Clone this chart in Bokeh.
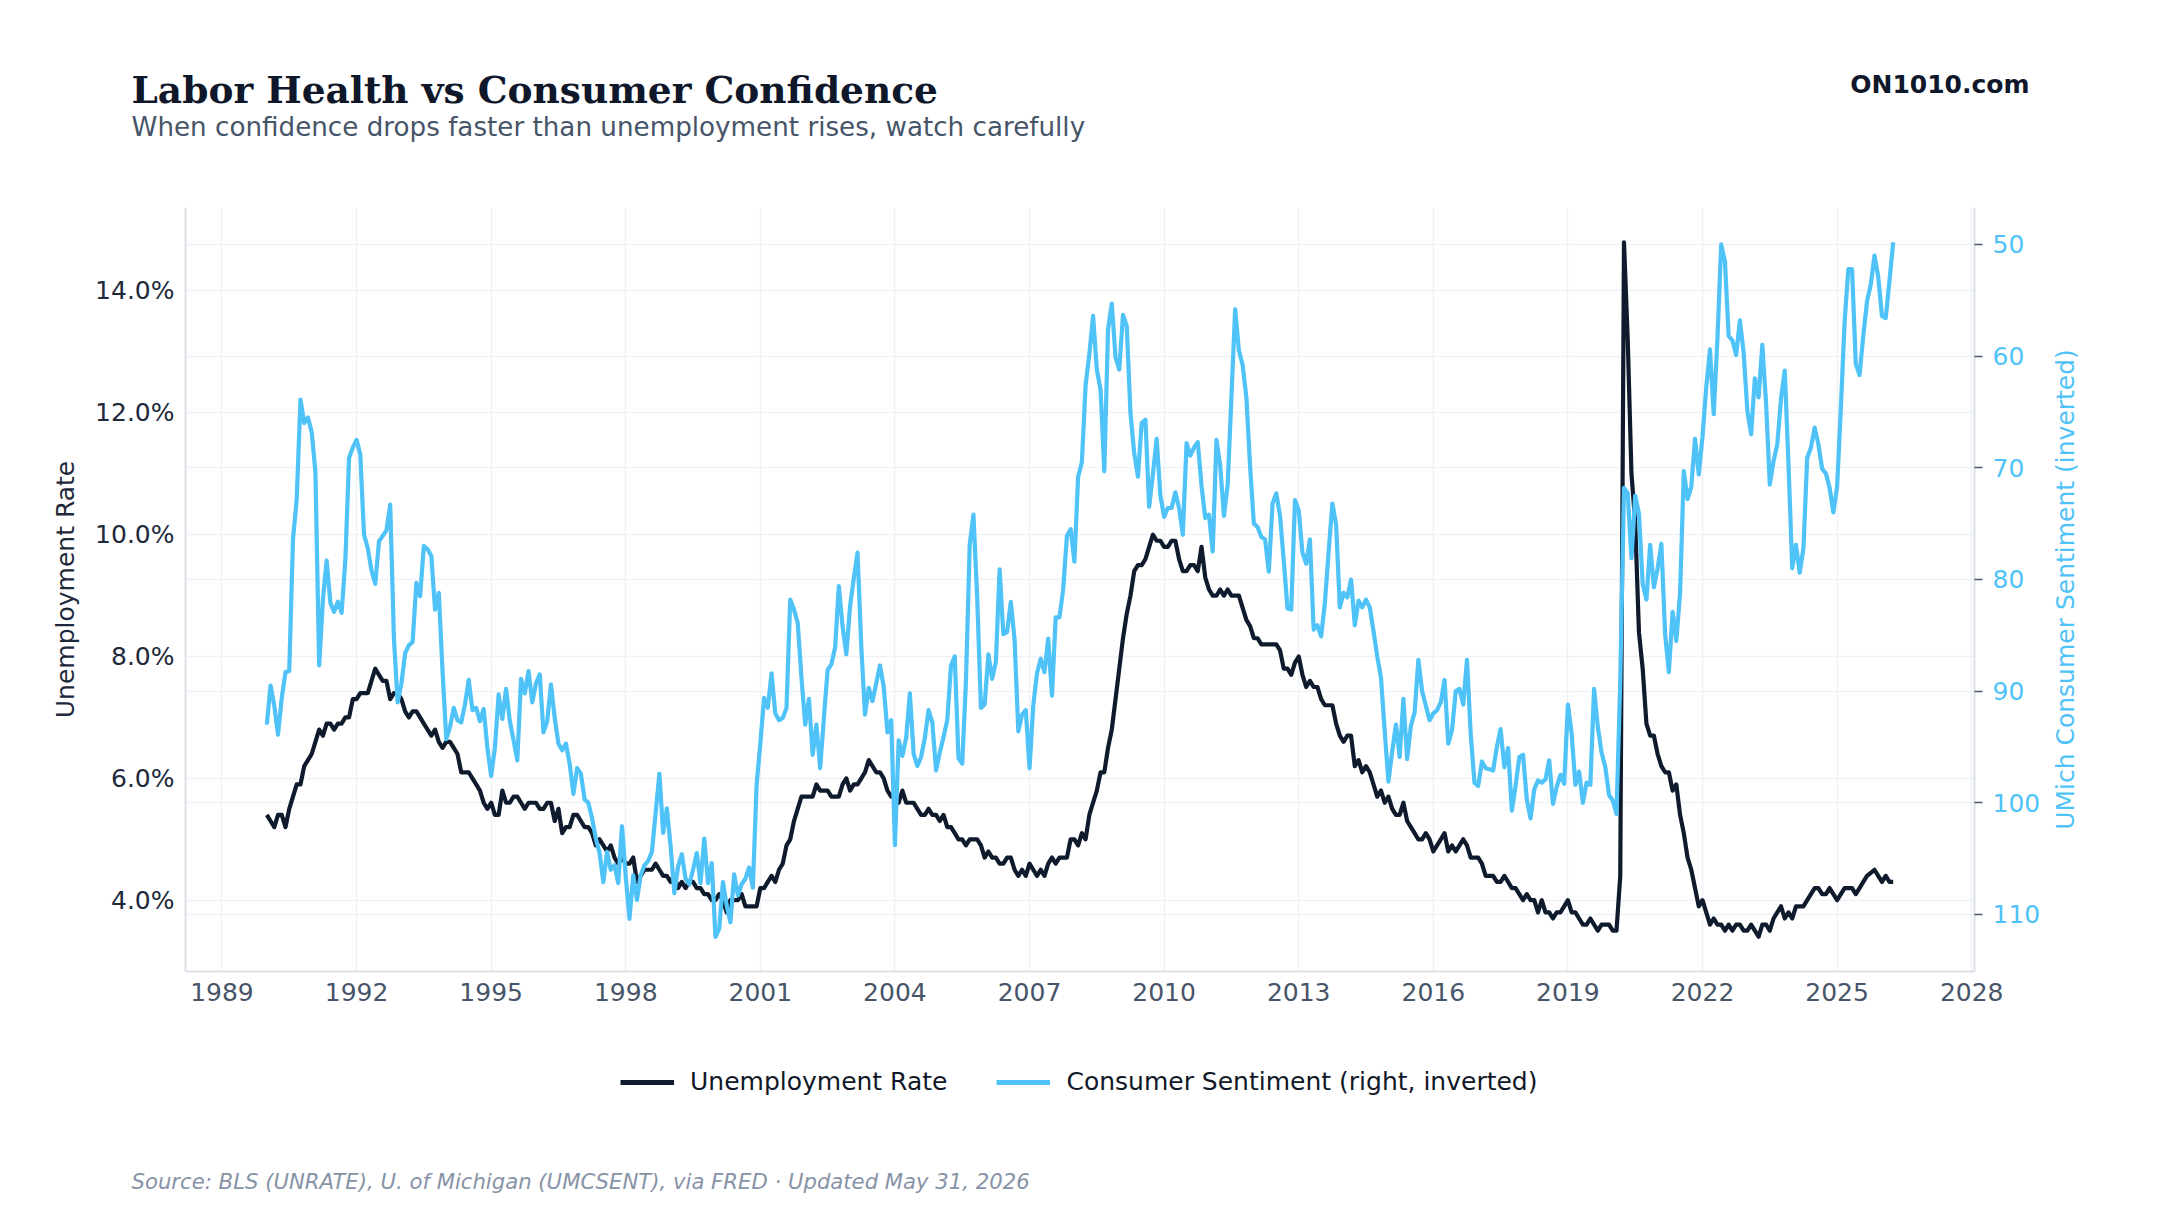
import math
import pandas as pd
from bokeh.plotting import figure
from bokeh.layouts import column, row
from bokeh.models import (Range1d, LinearAxis, FixedTicker, PrintfTickFormatter, Grid,
                          Label, Legend, LegendItem, ColumnDataSource)
from bokeh.embed import file_html
from bokeh.resources import INLINE

# ---------------- data (monthly, Jan 1990 .. Apr 2026) ----------------
start_month = "1990-01-01"

unemployment_rate = [
    5.4, 5.3, 5.2, 5.4, 5.4, 5.2, 5.5, 5.7, 5.9, 5.9, 6.2, 6.3,
    6.4, 6.6, 6.8, 6.7, 6.9, 6.9, 6.8, 6.9, 6.9, 7.0, 7.0, 7.3,
    7.3, 7.4, 7.4, 7.4, 7.6, 7.8, 7.7, 7.6, 7.6, 7.3, 7.4, 7.4,
    7.3, 7.1, 7.0, 7.1, 7.1, 7.0, 6.9, 6.8, 6.7, 6.8, 6.6, 6.5,
    6.6, 6.6, 6.5, 6.4, 6.1, 6.1, 6.1, 6.0, 5.9, 5.8, 5.6, 5.5,
    5.6, 5.4, 5.4, 5.8, 5.6, 5.6, 5.7, 5.7, 5.6, 5.5, 5.6, 5.6,
    5.6, 5.5, 5.5, 5.6, 5.6, 5.3, 5.5, 5.1, 5.2, 5.2, 5.4, 5.4,
    5.3, 5.2, 5.2, 5.1, 4.9, 5.0, 4.9, 4.8, 4.9, 4.7, 4.6, 4.7,
    4.6, 4.6, 4.7, 4.3, 4.4, 4.5, 4.5, 4.5, 4.6, 4.5, 4.4, 4.4,
    4.3, 4.4, 4.2, 4.3, 4.2, 4.3, 4.3, 4.2, 4.2, 4.1, 4.1, 4.0,
    4.0, 4.1, 4.0, 3.8, 4.0, 4.0, 4.0, 4.1, 3.9, 3.9, 3.9, 3.9,
    4.2, 4.2, 4.3, 4.4, 4.3, 4.5, 4.6, 4.9, 5.0, 5.3, 5.5, 5.7,
    5.7, 5.7, 5.7, 5.9, 5.8, 5.8, 5.8, 5.7, 5.7, 5.7, 5.9, 6.0,
    5.8, 5.9, 5.9, 6.0, 6.1, 6.3, 6.2, 6.1, 6.1, 6.0, 5.8, 5.7,
    5.7, 5.6, 5.8, 5.6, 5.6, 5.6, 5.5, 5.4, 5.4, 5.5, 5.4, 5.4,
    5.3, 5.4, 5.2, 5.2, 5.1, 5.0, 5.0, 4.9, 5.0, 5.0, 5.0, 4.9,
    4.7, 4.8, 4.7, 4.7, 4.6, 4.6, 4.7, 4.7, 4.5, 4.4, 4.5, 4.4,
    4.6, 4.5, 4.4, 4.5, 4.4, 4.6, 4.7, 4.6, 4.7, 4.7, 4.7, 5.0,
    5.0, 4.9, 5.1, 5.0, 5.4, 5.6, 5.8, 6.1, 6.1, 6.5, 6.8, 7.3,
    7.8, 8.3, 8.7, 9.0, 9.4, 9.5, 9.5, 9.6, 9.8, 10.0, 9.9, 9.9,
    9.8, 9.8, 9.9, 9.9, 9.6, 9.4, 9.4, 9.5, 9.5, 9.4, 9.8, 9.3,
    9.1, 9.0, 9.0, 9.1, 9.0, 9.1, 9.0, 9.0, 9.0, 8.8, 8.6, 8.5,
    8.3, 8.3, 8.2, 8.2, 8.2, 8.2, 8.2, 8.1, 7.8, 7.8, 7.7, 7.9,
    8.0, 7.7, 7.5, 7.6, 7.5, 7.5, 7.3, 7.2, 7.2, 7.2, 6.9, 6.7,
    6.6, 6.7, 6.7, 6.2, 6.3, 6.1, 6.2, 6.1, 5.9, 5.7, 5.8, 5.6,
    5.7, 5.5, 5.4, 5.4, 5.6, 5.3, 5.2, 5.1, 5.0, 5.0, 5.1, 5.0,
    4.8, 4.9, 5.0, 5.1, 4.8, 4.9, 4.8, 4.9, 5.0, 4.9, 4.7, 4.7,
    4.7, 4.6, 4.4, 4.4, 4.4, 4.3, 4.3, 4.4, 4.3, 4.2, 4.2, 4.1,
    4.0, 4.1, 4.0, 4.0, 3.8, 4.0, 3.8, 3.8, 3.7, 3.8, 3.8, 3.9,
    4.0, 3.8, 3.8, 3.7, 3.6, 3.6, 3.7, 3.6, 3.5, 3.6, 3.6, 3.6,
    3.5, 3.5, 4.4, 14.8, 13.2, 11.0, 10.2, 8.4, 7.8, 6.9, 6.7, 6.7,
    6.4, 6.2, 6.1, 6.1, 5.8, 5.9, 5.4, 5.1, 4.7, 4.5, 4.2, 3.9,
    4.0, 3.8, 3.6, 3.7, 3.6, 3.6, 3.5, 3.6, 3.5, 3.6, 3.6, 3.5,
    3.5, 3.6, 3.5, 3.4, 3.6, 3.6, 3.5, 3.7, 3.8, 3.9, 3.7, 3.8,
    3.7, 3.9, 3.9, 3.9, 4.0, 4.1, 4.2, 4.2, 4.1, 4.1, 4.2, 4.1,
    4.0, 4.1, 4.2, 4.2, 4.2, 4.1, 4.2, 4.3, 4.4, None, 4.5, 4.4,
    4.3, 4.4, 4.3, 4.3,
]

consumer_sentiment = [
    93.0, 89.5, 91.3, 93.9, 90.6, 88.3, 88.2, 76.4, 72.8, 63.9, 66.0, 65.5,
    66.8, 70.4, 87.7, 81.8, 78.3, 82.1, 82.9, 82.0, 83.0, 78.3, 69.1, 68.2,
    67.5, 68.8, 76.0, 77.2, 79.2, 80.4, 76.6, 76.1, 75.6, 73.3, 85.3, 91.0,
    89.3, 86.6, 85.9, 85.6, 80.3, 81.5, 77.0, 77.3, 77.9, 82.7, 81.2, 88.2,
    94.3, 93.2, 91.5, 92.6, 92.8, 91.2, 89.0, 91.7, 91.5, 92.7, 91.6, 95.1,
    97.6, 95.1, 90.3, 92.5, 89.8, 92.7, 94.4, 96.2, 88.9, 90.2, 88.2, 91.0,
    89.3, 88.5, 93.7, 92.7, 89.4, 92.4, 94.7, 95.3, 94.7, 96.5, 99.2, 96.9,
    97.4, 99.7, 100.0, 101.4, 103.2, 104.5, 107.1, 104.4, 106.0, 105.6, 107.2, 102.1,
    106.6, 110.4, 106.5, 108.7, 106.5, 105.6, 105.2, 104.4, 100.9, 97.4, 102.7, 100.5,
    103.9, 108.1, 105.7, 104.6, 106.8, 107.3, 106.0, 104.5, 107.2, 103.2, 107.2, 105.4,
    112.0, 111.3, 107.1, 109.2, 110.7, 106.4, 108.3, 107.3, 106.8, 105.8, 107.6, 98.4,
    94.7, 90.6, 91.5, 88.4, 92.0, 92.6, 92.4, 91.5, 81.8, 82.7, 83.9, 88.8,
    93.0, 90.7, 95.7, 93.0, 96.9, 92.4, 88.1, 87.6, 86.1, 80.6, 84.2, 86.7,
    82.4, 79.9, 77.6, 86.0, 92.1, 89.7, 90.9, 89.3, 87.7, 89.6, 93.7, 92.6,
    103.8, 94.4, 95.8, 94.2, 90.2, 95.6, 96.7, 95.9, 94.2, 91.7, 92.8, 97.1,
    95.5, 94.1, 92.6, 87.7, 86.9, 96.0, 96.5, 89.1, 76.9, 74.2, 81.6, 91.5,
    91.2, 86.7, 88.9, 87.4, 79.1, 84.9, 84.7, 82.0, 85.4, 93.6, 92.1, 91.7,
    96.9, 91.3, 88.4, 87.1, 88.3, 85.3, 90.4, 83.4, 83.4, 80.9, 76.1, 75.5,
    78.4, 70.8, 69.5, 62.6, 59.8, 56.4, 61.2, 63.0, 70.3, 57.6, 55.3, 60.1,
    61.2, 56.3, 57.3, 65.1, 68.7, 70.8, 66.0, 65.7, 73.5, 70.6, 67.4, 72.5,
    74.4, 73.6, 73.6, 72.2, 73.6, 76.0, 67.8, 68.9, 68.2, 67.7, 71.6, 74.5,
    74.2, 77.5, 67.5, 69.8, 74.3, 71.5, 63.7, 55.8, 59.5, 60.8, 63.7, 69.9,
    75.0, 75.3, 76.2, 76.4, 79.3, 73.2, 72.3, 74.3, 78.3, 82.6, 82.7, 72.9,
    73.8, 77.6, 78.6, 76.4, 84.5, 84.1, 85.1, 82.1, 77.5, 73.2, 75.1, 82.5,
    81.2, 81.6, 80.0, 84.1, 81.9, 82.5, 81.8, 82.5, 84.6, 86.9, 88.8, 93.6,
    98.1, 95.4, 93.0, 95.9, 90.7, 96.1, 93.1, 91.9, 87.2, 90.0, 91.3, 92.6,
    92.0, 91.7, 91.0, 89.0, 94.7, 93.5, 90.0, 89.8, 91.2, 87.2, 93.8, 98.2,
    98.5, 96.3, 96.9, 97.0, 97.1, 95.0, 93.4, 96.8, 95.1, 100.7, 98.5, 95.9,
    95.7, 99.7, 101.4, 98.8, 98.0, 98.2, 97.9, 96.2, 100.1, 98.6, 97.5, 98.3,
    91.2, 93.8, 98.4, 97.2, 100.0, 98.2, 98.4, 89.8, 93.2, 95.5, 96.8, 99.3,
    99.8, 101.0, 89.1, 71.8, 72.3, 78.1, 72.5, 74.1, 80.4, 81.8, 76.9, 80.7,
    79.0, 76.8, 84.9, 88.3, 82.9, 85.5, 81.2, 70.3, 72.8, 71.7, 67.4, 70.6,
    67.2, 62.8, 59.4, 65.2, 58.4, 50.0, 51.5, 58.2, 58.6, 59.9, 56.8, 59.7,
    64.9, 67.0, 62.0, 63.7, 59.0, 64.2, 71.5, 69.4, 67.9, 63.8, 61.3, 69.7,
    79.0, 76.9, 79.4, 77.2, 69.1, 68.2, 66.4, 67.9, 70.1, 70.5, 71.8, 74.0,
    71.7, 64.7, 57.0, 52.2, 52.2, 60.7, 61.7, 58.2, 55.1, 53.6, 51.0, 52.9,
    56.4, 56.6, 53.3, 49.8,
]

year_ticks = [1989, 1992, 1995, 1998, 2001, 2004, 2007, 2010, 2013, 2016, 2019, 2022, 2025, 2028]
rate_ticks = [4, 6, 8, 10, 12, 14]
sentiment_ticks = [50, 60, 70, 80, 90, 100, 110]

title_text = "Labor Health vs Consumer Confidence"
subtitle_text = "When confidence drops faster than unemployment rises, watch carefully"
brand_text = "ON1010.com"
source_text = "Source: BLS (UNRATE), U. of Michigan (UMCSENT), via FRED \u00b7 Updated May 31, 2026"
legend_labels = ["Unemployment Rate", "Consumer Sentiment (right, inverted)"]
left_axis_title = "Unemployment Rate"
right_axis_title = "UMich Consumer Sentiment (inverted)"

# ---------------- geometry ----------------
dates = pd.date_range(start_month, periods=len(consumer_sentiment), freq="MS")
t = (dates.year + (dates.month - 1) / 12.0).to_numpy()
df = pd.DataFrame({"t": t,
                   "u": [float("nan") if v is None else v for v in unemployment_rate],
                   "s": consumer_sentiment})
du = df.dropna(subset=["u"])

W, H = 2160, 1215
TOP_H = 207                 # header strip (frame top of main chart)
FL, FR = 185, 1974          # frame left / right
FRAME_BOTTOM = 971
MAIN_BOTTOM = 1040
MAIN_H = MAIN_BOTTOM - TOP_H
MAIN_W = 2048               # main chart width; a narrow strip at right holds the axis title
STRIP_W = W - MAIN_W
BOT_H = H - MAIN_BOTTOM

def padded(lo, hi, frac=0.05):
    pad = (hi - lo) * frac
    return lo - pad, hi + pad

x0, x1 = padded(t.min(), t.max())
u0, u1 = padded(du["u"].min(), du["u"].max())
s0, s1 = padded(min(consumer_sentiment), max(consumer_sentiment))

NAVY = "#0f1b2d"
BLUE = "#4fc3f7"
SLATE = "#475569"
DARK = "#1e293b"
GRID = "#eef1f5"
SPINE = "#dde1e7"


def blank(width, height):
    f = figure(width=width, height=height, output_backend="svg", toolbar_location=None,
               x_range=Range1d(0, width), y_range=Range1d(0, height), title=None,
               x_axis_location=None, y_axis_location=None,
               min_border=0, min_border_left=0, min_border_right=0,
               min_border_top=0, min_border_bottom=0)
    f.outline_line_color = None
    f.grid.visible = False
    f.frame_align = False
    return f

# ---------------- header ----------------
top = blank(W, TOP_H)
top.add_layout(Label(x=131, y=TOP_H - 89.5, text=title_text, text_baseline="middle",
                     text_font="DejaVu Serif", text_font_style="bold",
                     text_font_size="37.5px", text_color="#0f172a"))
top.add_layout(Label(x=131, y=TOP_H - 126.5, text=subtitle_text, text_baseline="middle",
                     text_font="DejaVu Sans", text_font_size="26.2px", text_color=SLATE))
top.add_layout(Label(x=2029, y=TOP_H - 84, text=brand_text, text_baseline="middle",
                     text_align="right", text_font="DejaVu Sans", text_font_style="bold",
                     text_font_size="25px", text_color="#0f172a"))

# ---------------- main chart ----------------
p = figure(width=MAIN_W, height=MAIN_H, output_backend="svg", toolbar_location=None,
           x_range=Range1d(x0, x1), y_range=Range1d(u0, u1), title=None,
           min_border_left=FL, min_border_right=MAIN_W - FR,
           min_border_top=0, min_border_bottom=MAIN_BOTTOM - FRAME_BOTTOM)
p.outline_line_color = None
p.frame_align = False
p.extra_y_ranges = {"sent": Range1d(start=s1, end=s0)}

xa = p.xaxis[0]
xa.ticker = FixedTicker(ticks=year_ticks)
xa.major_label_text_font = "DejaVu Sans"
xa.major_label_text_font_size = "25px"
xa.major_label_text_color = SLATE
xa.major_tick_line_color = None
xa.major_tick_out = 0
xa.minor_tick_line_color = None
xa.major_label_standoff = 11
xa.axis_line_color = SPINE
xa.axis_line_width = 2

ya = p.yaxis[0]
ya.ticker = FixedTicker(ticks=rate_ticks)
ya.formatter = PrintfTickFormatter(format="%.1f%%")
ya.major_label_text_font = "DejaVu Sans"
ya.major_label_text_font_size = "25px"
ya.major_label_text_color = DARK
ya.major_tick_line_color = None
ya.major_tick_out = 0
ya.minor_tick_line_color = None
ya.major_label_standoff = 11
ya.axis_line_color = SPINE
ya.axis_line_width = 2
ya.axis_label = left_axis_title
ya.axis_label_text_font = "DejaVu Sans"
ya.axis_label_text_font_style = "normal"
ya.axis_label_text_font_size = "25px"
ya.axis_label_text_color = DARK
ya.axis_label_standoff = 12

ra = LinearAxis(y_range_name="sent", ticker=FixedTicker(ticks=sentiment_ticks))
ra.major_label_text_font = "DejaVu Sans"
ra.major_label_text_font_size = "25px"
ra.major_label_text_color = BLUE
ra.major_tick_line_color = SLATE
ra.major_tick_line_width = 1.5
ra.major_tick_out = 8
ra.major_tick_in = 0
ra.minor_tick_line_color = None
ra.major_label_standoff = 10
ra.axis_line_color = SPINE
ra.axis_line_width = 2
p.add_layout(ra, "right")

p.xgrid.ticker = FixedTicker(ticks=year_ticks)
p.xgrid.grid_line_color = GRID
p.xgrid.grid_line_width = 1.5
p.ygrid.ticker = FixedTicker(ticks=rate_ticks)
p.ygrid.grid_line_color = GRID
p.ygrid.grid_line_width = 1.5
p.add_layout(Grid(dimension=1, y_range_name="sent", ticker=FixedTicker(ticks=sentiment_ticks),
                  grid_line_color=GRID, grid_line_width=1.5))

p.line("t", "u", source=ColumnDataSource(du), line_color=NAVY, line_width=4.2,
       line_join="round")
p.line("t", "s", source=ColumnDataSource(df), line_color=BLUE, line_width=4.2,
       line_join="round", y_range_name="sent")

# right axis title (reads bottom-to-top, like the left one)
strip = blank(STRIP_W, MAIN_H)
strip.add_layout(Label(x=2065 - MAIN_W, y=MAIN_H - ((TOP_H + FRAME_BOTTOM) / 2 - TOP_H),
                       text=right_axis_title, angle=math.pi / 2, text_align="center",
                       text_baseline="middle", text_font="DejaVu Sans",
                       text_font_size="25px", text_color=BLUE))

# ---------------- footer: legend + source ----------------
bot = blank(W, BOT_H)
proxy = ColumnDataSource(dict(x=[float("nan")], y=[float("nan")]))
k_u = bot.line("x", "y", source=proxy, line_color=NAVY, line_width=5)
k_s = bot.line("x", "y", source=proxy, line_color=BLUE, line_width=5)
legend = Legend(items=[LegendItem(label=legend_labels[0], renderers=[k_u]),
                       LegendItem(label=legend_labels[1], renderers=[k_s])],
                location=(620, BOT_H - (1082 - MAIN_BOTTOM) - 14), orientation="horizontal",
                border_line_color=None, background_fill_alpha=0,
                label_text_font="DejaVu Sans", label_text_font_size="25px",
                label_text_color="#111827", glyph_width=54, glyph_height=28,
                label_height=28, label_standoff=16, spacing=49, padding=0, margin=0)
bot.add_layout(legend)
bot.add_layout(Label(x=131, y=BOT_H - (1180.5 - MAIN_BOTTOM), text=source_text,
                     text_baseline="middle", text_font="DejaVu Sans",
                     text_font_style="italic", text_font_size="21.2px", text_color="#8793a6"))

layout = column(top, row(p, strip, spacing=0), bot, spacing=0)
open("out.html", "w").write(file_html(layout, INLINE))
